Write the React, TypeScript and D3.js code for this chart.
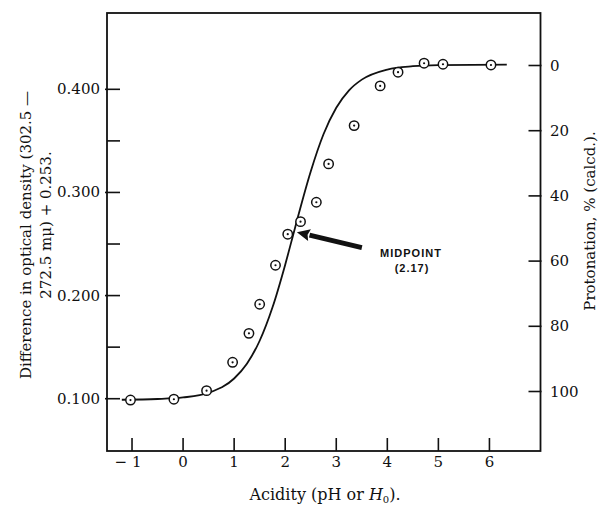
import React from "react";
import * as d3 from "d3";

// Observed points: acidity (pH or H0) vs. optical-density difference
const acidity = [-1.03, -0.18, 0.46, 0.97, 1.29, 1.5, 1.81, 2.05, 2.3, 2.61, 2.85, 3.35, 3.86, 4.21, 4.72, 5.09, 6.03];
const density = [0.0987, 0.0995, 0.1078, 0.1353, 0.1634, 0.1916, 0.2294, 0.2595, 0.2717, 0.2905, 0.3277, 0.3648, 0.4033, 0.4166, 0.4253, 0.4243, 0.4236];

// Calculated titration curve
const curveAcidity = [-1.2, -0.5, 0, 0.5, 1.0, 1.25, 1.5, 1.75, 2.0, 2.17, 2.25, 2.5, 2.75, 3.0, 3.25, 3.5, 4.0, 4.5, 5.0, 6.34];
const curveDensity = [0.099, 0.0997, 0.1012, 0.1058, 0.1196, 0.1339, 0.1562, 0.1884, 0.23, 0.2615, 0.2764, 0.3203, 0.3564, 0.3821, 0.399, 0.4094, 0.4192, 0.4224, 0.4235, 0.424];

const xTicks = [-1, 0, 1, 2, 3, 4, 5, 6];
const yMajorTicks = [0.1, 0.2, 0.3, 0.4];
const yMinorTicks = [0.15, 0.25, 0.35];
const protonationTicks = [0, 20, 40, 60, 80, 100];

const midpoint = { pH: 2.17, label: "(2.17)" };

const W = 600;
const H = 505;
const left = 107;
const right = 540.5;
const top = 13;
const bottom = 451;

const serif = "'DejaVu Serif', serif";
const sans = "'Liberation Sans', Arial, sans-serif";

export default function App() {
  const x = d3.scaleLinear().domain([-1.49, 7.0]).range([left, right]);
  const y = d3.scaleLinear().domain([0.0493, 0.474]).range([bottom, top]);
  const yR = d3.scaleLinear().domain([0, 100]).range([65.5, 391.5]);

  const curvePts: [number, number][] = curveAcidity.map((a, i) => [a, curveDensity[i]]);
  const line = d3
    .line<[number, number]>()
    .x((d) => x(d[0]))
    .y((d) => y(d[1]))
    .curve(d3.curveMonotoneX);

  // midpoint on the curve, and arrow from label toward it
  const midY = (curveDensity[0] + curveDensity[curveDensity.length - 1]) / 2;
  const tipX = x(midpoint.pH) + 3;
  const tipY = y(midY);
  const tailX = tipX + 65;
  const tailY = tipY + 15.5;
  const ang = Math.atan2(tailY - tipY, tailX - tipX);
  const headLen = 13;
  const headHalf = 6;
  const bx = tipX + Math.cos(ang) * headLen;
  const by = tipY + Math.sin(ang) * headLen;
  const nx = -Math.sin(ang);
  const ny = Math.cos(ang);

  return (
    <svg
      width={W}
      height={H}
      style={{ position: "fixed", left: 0, top: 0, display: "block", background: "#fff" }}
    >
      <rect x={0} y={0} width={W} height={H} fill="#fff" />
      {/* frame */}
      <rect x={left} y={top} width={right - left} height={bottom - top} fill="none" stroke="#111" strokeWidth={1.8} />

      {/* left axis ticks */}
      {yMajorTicks.map((t) => (
        <g key={"ym" + t}>
          <line x1={left - 2} x2={left + 13} y1={y(t)} y2={y(t)} stroke="#111" strokeWidth={1.6} />
          <text x={100} y={y(t) + 5} textAnchor="end" fontFamily={serif} fontSize={15} fill="#111">
            {t.toFixed(3)}
          </text>
        </g>
      ))}
      {yMinorTicks.map((t) => (
        <line key={"yn" + t} x1={left} x2={left + 13} y1={y(t)} y2={y(t)} stroke="#111" strokeWidth={1.6} />
      ))}

      {/* right axis ticks */}
      {protonationTicks.map((t) => (
        <g key={"yr" + t}>
          <line x1={right - 12} x2={right + 1} y1={yR(t)} y2={yR(t)} stroke="#111" strokeWidth={1.6} />
          <text x={550} y={yR(t) + 5} textAnchor="start" fontFamily={serif} fontSize={15} fill="#111">
            {t}
          </text>
        </g>
      ))}

      {/* bottom axis ticks */}
      {xTicks.map((t) => (
        <g key={"x" + t}>
          <line x1={x(t)} x2={x(t)} y1={bottom - 13} y2={bottom} stroke="#111" strokeWidth={1.6} />
          <text x={x(t) - (t < 0 ? 4 : 0)} y={467} textAnchor="middle" fontFamily={serif} fontSize={15} fill="#111">
            {t < 0 ? "\u2212 " + Math.abs(t) : String(t)}
          </text>
        </g>
      ))}

      {/* axis titles */}
      <text x={325} y={500} textAnchor="middle" fontFamily={serif} fontSize={16} fill="#111">
        Acidity (pH or <tspan fontStyle="italic">H</tspan>
        <tspan fontSize={10} dy={3}>0</tspan>
        <tspan dy={-3}>).</tspan>
      </text>
      <text transform="translate(31,235) rotate(-90)" textAnchor="middle" fontFamily={serif} fontSize={15} fill="#111">
        Difference in optical density (302.5 —
      </text>
      <text transform="translate(51,225) rotate(-90)" textAnchor="middle" fontFamily={serif} fontSize={15} fill="#111">
        272.5 mμ) + 0.253.
      </text>
      <text transform="translate(595,221) rotate(-90)" textAnchor="middle" fontFamily={serif} fontSize={15} fill="#111">
        Protonation, % (calcd.).
      </text>

      {/* calculated curve */}
      <path d={line(curvePts) ?? ""} fill="none" stroke="#111" strokeWidth={1.8} />

      {/* observed points */}
      {acidity.map((a, i) => (
        <g key={"p" + i}>
          <circle cx={x(a)} cy={y(density[i])} r={4.7} fill="#fff" stroke="#111" strokeWidth={1.5} />
          <circle cx={x(a)} cy={y(density[i])} r={1.1} fill="#111" />
        </g>
      ))}

      {/* midpoint arrow */}
      <line x1={bx} y1={by} x2={tailX} y2={tailY} stroke="#111" strokeWidth={5} />
      <path
        d={`M${tipX},${tipY} L${bx + nx * headHalf},${by + ny * headHalf} L${bx - 2 * Math.cos(ang)},${by - 2 * Math.sin(ang)} L${bx - nx * headHalf},${by - ny * headHalf} Z`}
        fill="#111"
      />
      <text x={411} y={257} textAnchor="middle" fontFamily={sans} fontSize={11} fontWeight={600} letterSpacing={1} fill="#111">
        MIDPOINT
      </text>
      <text x={412} y={272} textAnchor="middle" fontFamily={sans} fontSize={11} fontWeight={600} letterSpacing={1} fill="#111">
        {midpoint.label}
      </text>
    </svg>
  );
}
